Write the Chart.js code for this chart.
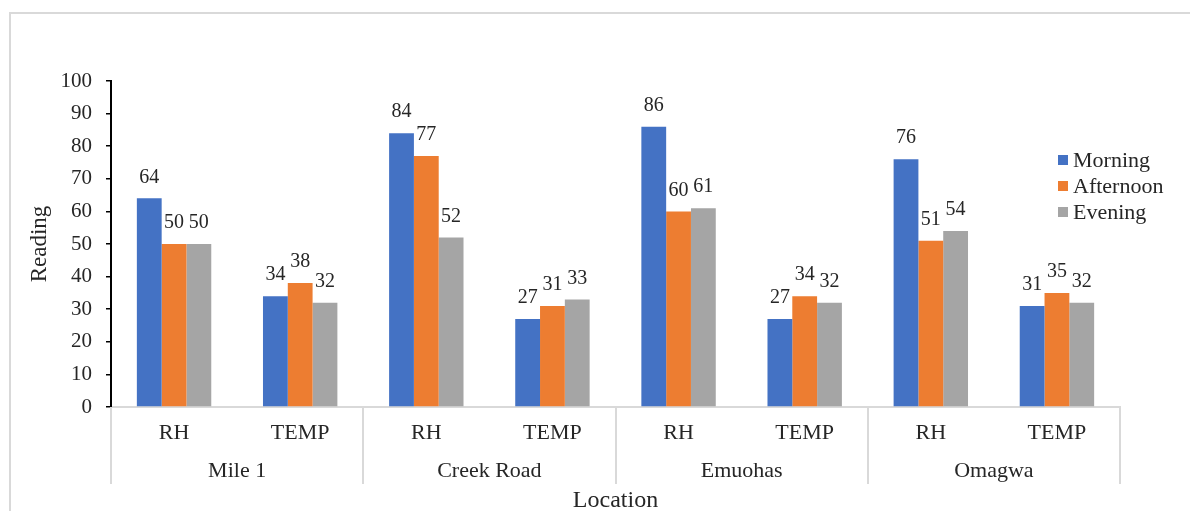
<!DOCTYPE html>
<html>
<head>
<meta charset="utf-8">
<style>
  html, body { margin: 0; padding: 0; background: #ffffff; }
  #wrap { width: 1190px; height: 511px; }
</style>
<script src="https://cdn.jsdelivr.net/npm/chart.js@4.4.1/dist/chart.umd.min.js"></script>
</head>
<body>
<div id="wrap"><canvas id="chart" width="1190" height="511"></canvas></div>
<script>
// Readings per location: relative humidity (RH) and temperature (TEMP)
const locations = ['Mile 1', 'Creek Road', 'Emuohas', 'Omagwa'];
const measures = ['RH', 'TEMP'];
const categories = ['RH', 'TEMP', 'RH', 'TEMP', 'RH', 'TEMP', 'RH', 'TEMP'];

const morning   = [64, 34, 84, 27, 86, 27, 76, 31];
const afternoon = [50, 38, 77, 31, 60, 34, 51, 35];
const evening   = [50, 32, 52, 33, 61, 32, 54, 32];

const seriesNames = ['Morning', 'Afternoon', 'Evening'];
const seriesColors = ['#4472C4', '#ED7D31', '#A5A5A5'];

const yTicks = [0, 10, 20, 30, 40, 50, 60, 70, 80, 90, 100];

const SERIF = "'Liberation Serif', 'Times New Roman', 'DejaVu Serif', serif";
const TEXT = '#262626';
const LIGHT = '#d9d9d9';

// Outer frame of the chart area
const framePlugin = {
  id: 'frame',
  beforeDraw(chart) {
    const ctx = chart.ctx;
    ctx.save();
    ctx.strokeStyle = LIGHT;
    ctx.lineWidth = 2;
    ctx.beginPath();
    ctx.moveTo(10, chart.height);
    ctx.lineTo(10, 13);
    ctx.lineTo(chart.width, 13);
    ctx.stroke();
    ctx.restore();
  }
};

// Value labels above each bar
const valueLabelPlugin = {
  id: 'valueLabels',
  afterDatasetsDraw(chart) {
    const ctx = chart.ctx;
    ctx.save();
    ctx.font = '20px ' + SERIF;
    ctx.fillStyle = TEXT;
    ctx.textAlign = 'center';
    ctx.textBaseline = 'middle';
    chart.data.datasets.forEach((ds, di) => {
      const meta = chart.getDatasetMeta(di);
      meta.data.forEach((bar, i) => {
        ctx.fillText(String(ds.data[i]), bar.x, bar.y - 21);
      });
    });
    ctx.restore();
  }
};

// Second row of the category axis: location names and group dividers
const groupAxisPlugin = {
  id: 'groupAxis',
  afterDraw(chart) {
    const xs = chart.scales.x;
    const ctx = chart.ctx;
    const n = measures.length;
    const top = xs.top;
    const bottom = top + 77;
    ctx.save();
    ctx.strokeStyle = LIGHT;
    ctx.lineWidth = 2;
    const edges = [];
    for (let g = 0; g <= locations.length; g++) {
      let x;
      if (g === 0) x = xs.left;
      else if (g === locations.length) x = xs.right;
      else x = (xs.getPixelForTick(g * n - 1) + xs.getPixelForTick(g * n)) / 2;
      edges.push(x);
      ctx.beginPath();
      ctx.moveTo(Math.round(x), top);
      ctx.lineTo(Math.round(x), bottom);
      ctx.stroke();
    }
    ctx.font = '22px ' + SERIF;
    ctx.fillStyle = TEXT;
    ctx.textAlign = 'center';
    ctx.textBaseline = 'middle';
    locations.forEach((name, g) => {
      ctx.fillText(name, (edges[g] + edges[g + 1]) / 2, top + 64);
    });
    ctx.restore();
  }
};

// Legend inside the plot, upper right
const legendPlugin = {
  id: 'insideLegend',
  afterDraw(chart) {
    const ca = chart.chartArea;
    const ctx = chart.ctx;
    const x0 = ca.right - 62;
    const y0 = ca.top + 79;
    ctx.save();
    ctx.font = '22px ' + SERIF;
    ctx.textAlign = 'left';
    ctx.textBaseline = 'middle';
    chart.data.datasets.forEach((ds, i) => {
      const cy = y0 + i * 26;
      ctx.fillStyle = ds.backgroundColor;
      ctx.fillRect(x0, cy - 5, 10, 10);
      ctx.fillStyle = TEXT;
      ctx.fillText(ds.label, x0 + 15, cy + 1);
    });
    ctx.restore();
  }
};

const seriesValues = [morning, afternoon, evening];

new Chart(document.getElementById('chart'), {
  type: 'bar',
  data: {
    labels: categories,
    datasets: seriesNames.map((name, i) => ({
      label: name,
      data: seriesValues[i],
      backgroundColor: seriesColors[i],
      borderWidth: 0,
      categoryPercentage: 0.59,
      barPercentage: 1.0
    }))
  },
  options: {
    responsive: false,
    animation: false,
    devicePixelRatio: 1,
    layout: { padding: { left: 0, right: 70, top: 81, bottom: 0 } },
    plugins: {
      legend: { display: false },
      tooltip: { enabled: false }
    },
    scales: {
      x: {
        grid: { display: false, drawTicks: false },
        border: { display: true, color: LIGHT, width: 2 },
        ticks: {
          padding: 13,
          color: TEXT,
          font: { family: SERIF, size: 22 },
          maxRotation: 0,
          autoSkip: false
        },
        title: {
          display: true,
          text: 'Location',
          color: TEXT,
          font: { family: SERIF, size: 24, lineHeight: 1 },
          padding: { top: 0, bottom: -2 }
        },
        afterFit(scale) { scale.height = 104; }
      },
      y: {
        min: 0,
        max: 100,
        afterBuildTicks(scale) { scale.ticks = yTicks.map(v => ({ value: v })); },
        grid: {
          drawOnChartArea: false,
          drawTicks: true,
          tickLength: 5,
          tickColor: '#000000',
          lineWidth: 1.5,
          color: '#000000'
        },
        border: { display: true, color: '#000000', width: 2 },
        ticks: {
          padding: 14,
          color: TEXT,
          font: { family: SERIF, size: 21 }
        },
        title: {
          display: true,
          text: 'Reading',
          color: TEXT,
          font: { family: SERIF, size: 23, lineHeight: 1.2 },
          padding: { top: 26, bottom: 0 }
        },
        afterFit(scale) { scale.width = 111; }
      }
    }
  },
  plugins: [framePlugin, valueLabelPlugin, groupAxisPlugin, legendPlugin]
});
</script>
</body>
</html>
